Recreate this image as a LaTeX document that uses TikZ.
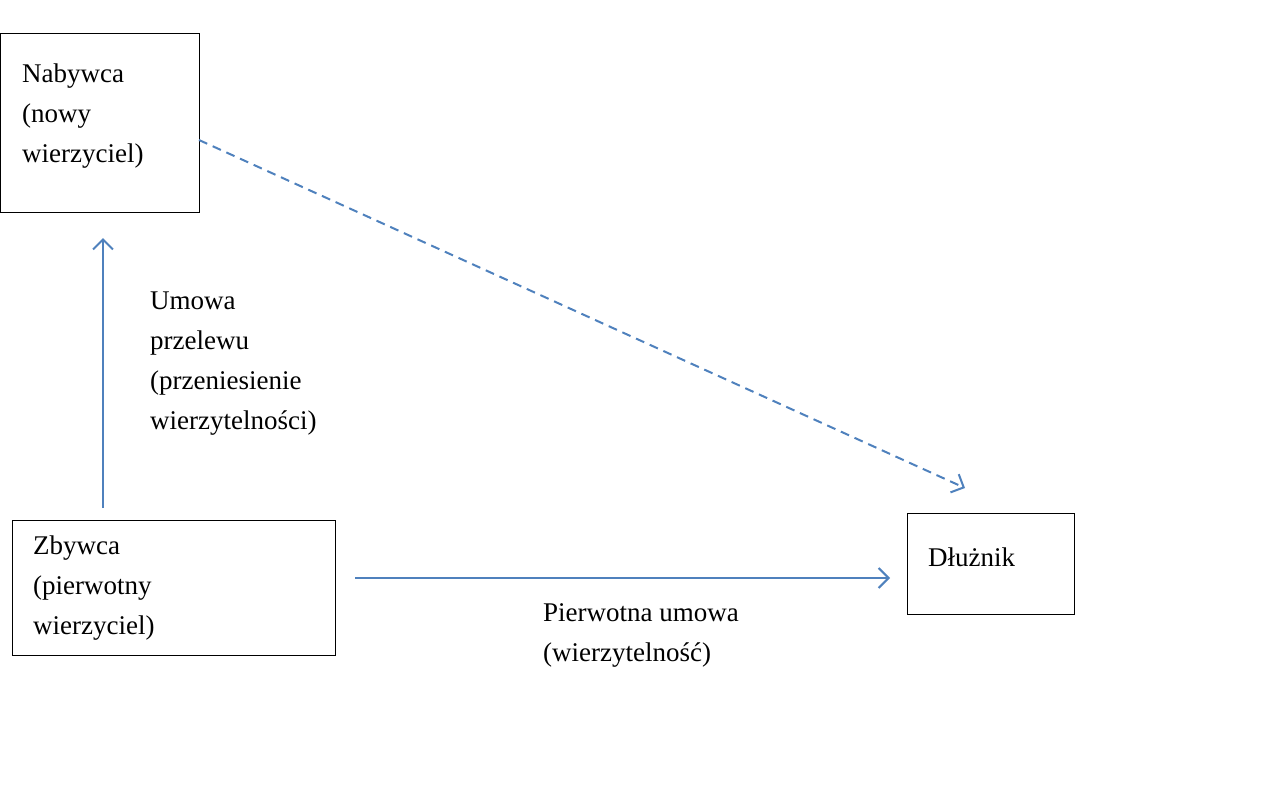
\documentclass[tikz,border=0pt]{standalone}
\usepackage{fontspec}
\setmainfont{Liberation Serif}
\usetikzlibrary{arrows.meta}
\definecolor{arr}{HTML}{4F81BD}
\begin{document}
\begin{tikzpicture}[x=1pt,y=-1pt,
  box/.style={draw,line width=1pt,inner sep=0},
  txt/.style={anchor=north west,inner sep=0,align=left,font=\fontsize{27}{40}\selectfont},
  con/.style={draw=arr,line width=2pt,-{Straight Barb[length=10pt,width=20pt,line width=2pt]}}]
\useasboundingbox (0,0) rectangle (1280,800);
\node[box,minimum width=199pt,minimum height=179pt,anchor=north west] (nab) at (0,33) {};
\node[box,minimum width=323pt,minimum height=135pt,anchor=north west] (zby) at (12,520) {};
\node[box,minimum width=167pt,minimum height=101pt,anchor=north west] (dlu) at (907,513) {};
\node[txt] (tn) at (22,64) {Nabywca\\(nowy\\wierzyciel)};
\node[txt] (tz) at (33,536) {Zbywca\\(pierwotny\\wierzyciel)};
\node[txt] (td) at (928,548) {Dłużnik};
\node[txt] (lu) at (150,292) {Umowa\\przelewu\\(przeniesienie\\wierzytelności)};
\node[txt] (lp) at (543,603) {Pierwotna umowa\\(wierzytelność)};
\coordinate (a1) at (103,508); \coordinate (a2) at (103,238);
\coordinate (b1) at (355,578); \coordinate (b2) at (890,578);
\coordinate (c1) at (199,140); \coordinate (c2) at (965,488);
\draw[con] (a1) -- (a2);
\draw[con] (b1) -- (b2);
\draw[con,dash pattern=on 9pt off 6pt] (c1) -- (c2);
\end{tikzpicture}
\end{document}
